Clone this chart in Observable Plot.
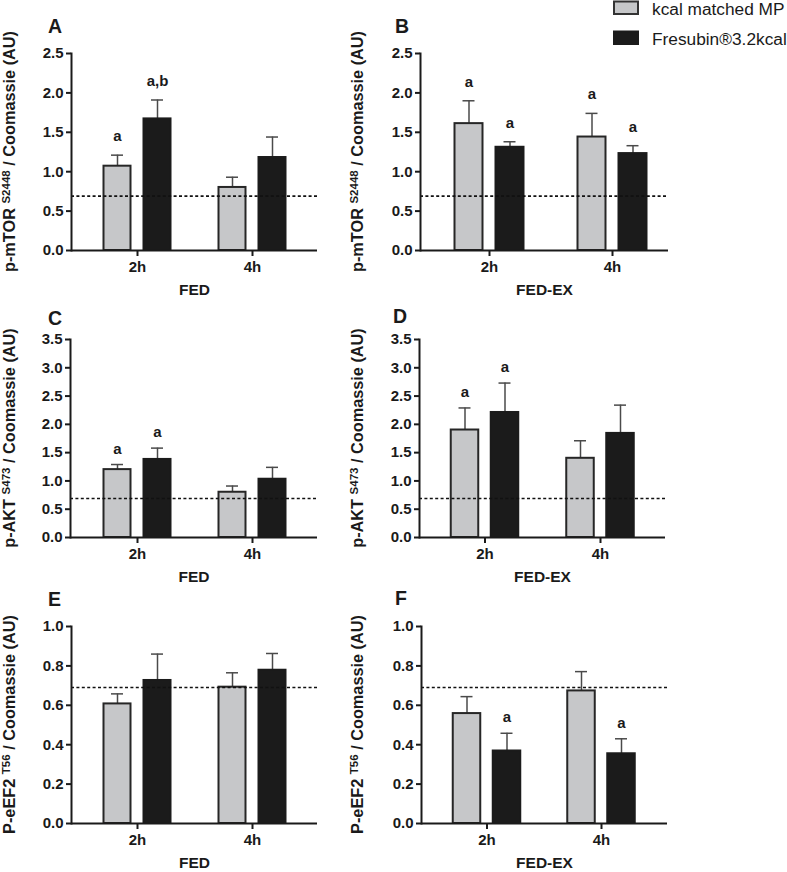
<!DOCTYPE html>
<html><head><meta charset="utf-8">
<script src="https://cdn.jsdelivr.net/npm/d3@7"></script>
<script src="https://cdn.jsdelivr.net/npm/@observablehq/plot@0.6"></script>
<style>
html,body{margin:0;padding:0;background:#fff;}
#root{position:relative;width:787px;height:872px;overflow:hidden;background:#fff;font-family:"Liberation Sans",Arial,sans-serif;}
#root svg{position:absolute;}
</style></head>
<body><div id="root"></div>
<script>
// ---------- data ----------
const times = ["2h", "4h"];
const seriesNames = ["kcal matched MP", "Fresubin®3.2kcal"];
const panelLetters = ["A", "B", "C", "D", "E", "F"];
const conditions = ["FED", "FED-EX"];
const baselineLevel = 0.69;

const ticksMTOR = [0, 0.5, 1.0, 1.5, 2.0, 2.5];
const ticksAKT = [0, 0.5, 1.0, 1.5, 2.0, 2.5, 3.0, 3.5];
const ticksEEF2 = [0, 0.2, 0.4, 0.6, 0.8, 1.0];

const titleMTOR = ["p-mTOR ", "S2448", " / Coomassie (AU)"];
const titleAKT = ["p-AKT ", "S473", " / Coomassie (AU)"];
const titleEEF2 = ["P-eEF2 ", "T56", " / Coomassie (AU)"];

// A: p-mTOR FED
const mtorFedMP = [1.07, 0.80], mtorFedMPsem = [0.14, 0.13], mtorFedMPsig = ["a", ""];
const mtorFedFR = [1.67, 1.18], mtorFedFRsem = [0.24, 0.26], mtorFedFRsig = ["a,b", ""];
// B: p-mTOR FED-EX
const mtorExMP = [1.61, 1.44], mtorExMPsem = [0.29, 0.30], mtorExMPsig = ["a", "a"];
const mtorExFR = [1.31, 1.23], mtorExFRsem = [0.07, 0.10], mtorExFRsig = ["a", "a"];
// C: p-AKT FED
const aktFedMP = [1.20, 0.80], aktFedMPsem = [0.09, 0.11], aktFedMPsig = ["a", ""];
const aktFedFR = [1.38, 1.03], aktFedFRsem = [0.20, 0.21], aktFedFRsig = ["a", ""];
// D: p-AKT FED-EX
const aktExMP = [1.90, 1.40], aktExMPsem = [0.39, 0.31], aktExMPsig = ["a", ""];
const aktExFR = [2.21, 1.84], aktExFRsem = [0.52, 0.50], aktExFRsig = ["a", ""];
// E: P-eEF2 FED
const eefFedMP = [0.607, 0.692], eefFedMPsem = [0.051, 0.073], eefFedMPsig = ["", ""];
const eefFedFR = [0.726, 0.778], eefFedFRsem = [0.134, 0.085], eefFedFRsig = ["", ""];
// F: P-eEF2 FED-EX
const eefExMP = [0.558, 0.673], eefExMPsem = [0.086, 0.098], eefExMPsig = ["", ""];
const eefExFR = [0.368, 0.354], eefExFRsem = [0.090, 0.076], eefExFRsig = ["a", "a"];

// ---------- layout (styles) ----------
const FONT = "Liberation Sans, Arial, sans-serif";
const GRAY = "#c6c7c9", BLACK = "#1b1b1b", INK = "#1a1a1a";

const panels = [
  {letter: 0, cond: 0, ticks: ticksMTOR, title: titleMTOR, mp: mtorFedMP, mpSem: mtorFedMPsem, mpSig: mtorFedMPsig, fr: mtorFedFR, frSem: mtorFedFRsem, frSig: mtorFedFRsig,
   svgLeft: 0, left: 71, right: 317, top: 53, bottom: 250, c0: 137, c1: 252, bw: 27, off: 20, sigGap: 14, lx: 48, ly: 33, tx: 15},
  {letter: 1, cond: 1, ticks: ticksMTOR, title: titleMTOR, mp: mtorExMP, mpSem: mtorExMPsem, mpSig: mtorExMPsig, fr: mtorExFR, frSem: mtorExFRsem, frSig: mtorExFRsig,
   svgLeft: 345, left: 420, right: 668, top: 53, bottom: 250, c0: 489, c1: 612, bw: 28, off: 20.5, sigGap: 14, lx: 395, ly: 33, tx: 363},
  {letter: 2, cond: 0, ticks: ticksAKT, title: titleAKT, mp: aktFedMP, mpSem: aktFedMPsem, mpSig: aktFedMPsig, fr: aktFedFR, frSem: aktFedFRsem, frSig: aktFedFRsig,
   svgLeft: 0, left: 70, right: 317, top: 339, bottom: 537, c0: 137, c1: 252, bw: 27, off: 20, sigGap: 11, lx: 48, ly: 325, tx: 15},
  {letter: 3, cond: 1, ticks: ticksAKT, title: titleAKT, mp: aktExMP, mpSem: aktExMPsem, mpSig: aktExMPsig, fr: aktExFR, frSem: aktExFRsem, frSig: aktExFRsig,
   svgLeft: 345, left: 419, right: 665, top: 339, bottom: 537, c0: 484.5, c1: 600, bw: 27.5, off: 20, sigGap: 11, lx: 393, ly: 323, tx: 363},
  {letter: 4, cond: 0, ticks: ticksEEF2, title: titleEEF2, mp: eefFedMP, mpSem: eefFedMPsem, mpSig: eefFedMPsig, fr: eefFedFR, frSem: eefFedFRsem, frSig: eefFedFRsig,
   svgLeft: 0, left: 71, right: 317, top: 626, bottom: 823, c0: 137, c1: 252, bw: 27, off: 20, sigGap: 11, lx: 48, ly: 606, tx: 15},
  {letter: 5, cond: 1, ticks: ticksEEF2, title: titleEEF2, mp: eefExMP, mpSem: eefExMPsem, mpSig: eefExMPsig, fr: eefExFR, frSem: eefExFRsem, frSig: eefExFRsig,
   svgLeft: 345, left: 421, right: 667, top: 626, bottom: 823, c0: 486.5, c1: 601, bw: 27.5, off: 20, sigGap: 11, lx: 395, ly: 605, tx: 363}
];

const root = document.getElementById("root");
const MT = 20, MB = 52, MR = 13;

function makePanel(p) {
  const rowsMP = times.map((t, i) => ({time: t, series: seriesNames[0], mean: p.mp[i], top: p.mp[i] + p.mpSem[i], sig: p.mpSig[i]}));
  const rowsFR = times.map((t, i) => ({time: t, series: seriesNames[1], mean: p.fr[i], top: p.fr[i] + p.frSem[i], sig: p.frSig[i]}));
  const s = p.c1 - p.c0;
  const width = p.right + MR - p.svgLeft;
  const height = MT + (p.bottom - p.top) + MB;
  const capW = 12;
  const ymax = p.ticks[p.ticks.length - 1];
  const chart = Plot.plot({
    width, height,
    marginLeft: p.left - p.svgLeft, marginRight: MR, marginTop: MT, marginBottom: MB,
    style: {fontFamily: FONT, fontSize: "15px", fontWeight: "bold", color: INK, background: "transparent", overflow: "visible"},
    x: {type: "band", domain: times, range: [p.c0 - s / 2 - p.svgLeft, p.c1 + s / 2 - p.svgLeft], padding: 0, round: false},
    y: {domain: [0, ymax]},
    marks: [
      // whiskers (SEM, upward only)
      Plot.ruleX(rowsMP, {x: "time", y1: "mean", y2: "top", dx: -p.off, stroke: "#4a4a4a", strokeWidth: 1.5}),
      Plot.ruleX(rowsFR, {x: "time", y1: "mean", y2: "top", dx: p.off, stroke: "#4a4a4a", strokeWidth: 1.5}),
      Plot.tickY(rowsMP, {x: "time", y: "top", dx: -p.off, insetLeft: s / 2 - capW / 2, insetRight: s / 2 - capW / 2, stroke: "#4a4a4a", strokeWidth: 1.5}),
      Plot.tickY(rowsFR, {x: "time", y: "top", dx: p.off, insetLeft: s / 2 - capW / 2, insetRight: s / 2 - capW / 2, stroke: "#4a4a4a", strokeWidth: 1.5}),
      // bars
      Plot.barY(rowsMP, {x: "time", y: "mean", fill: GRAY, stroke: "#262626", strokeWidth: 2,
        insetLeft: s / 2 - p.off - p.bw / 2, insetRight: s / 2 + p.off - p.bw / 2}),
      Plot.barY(rowsFR, {x: "time", y: "mean", fill: BLACK, stroke: "#1b1b1b", strokeWidth: 2,
        insetLeft: s / 2 + p.off - p.bw / 2, insetRight: s / 2 - p.off - p.bw / 2}),
      // reference (dashed) level
      Plot.ruleY([baselineLevel], {stroke: "#111", strokeWidth: 1.6, strokeDasharray: "3,2.4"}),
      // significance letters
      Plot.text(rowsMP.filter(d => d.sig), {x: "time", y: "top", text: "sig", dx: -p.off, dy: -p.sigGap, lineAnchor: "bottom", fontSize: 15, fontWeight: "bold", fill: INK}),
      Plot.text(rowsFR.filter(d => d.sig), {x: "time", y: "top", text: "sig", dx: p.off, dy: -p.sigGap, lineAnchor: "bottom", fontSize: 15, fontWeight: "bold", fill: INK}),
      // axes
      Plot.axisY(p.ticks, {tickFormat: d3.format(".1f"), tickSize: 5, tickPadding: 3, strokeWidth: 2, stroke: INK, fill: INK, label: null, fontSize: 15, fontWeight: "bold"}),
      Plot.axisX({tickSize: 6, tickPadding: 5, strokeWidth: 2, stroke: INK, fill: INK, label: null, fontSize: 15, fontWeight: "bold"}),
      Plot.ruleY([0], {stroke: INK, strokeWidth: 2}),
      Plot.frame({anchor: "left", stroke: INK, strokeWidth: 2}),
      Plot.text([conditions[p.cond]], {frameAnchor: "bottom", dy: 44, text: d => d, fontSize: 15.5, fontWeight: "bold", fill: INK})
    ]
  });
  chart.style.left = p.svgLeft + "px";
  chart.style.top = (p.top - MT) + "px";
  root.appendChild(chart);
}

panels.forEach(makePanel);

// ---------- overlay: panel letters, y titles, legend ----------
const ns = "http://www.w3.org/2000/svg";
const ov = d3.select(root).append("svg")
  .attr("width", 787).attr("height", 872)
  .style("left", "0px").style("top", "0px")
  .style("font-family", FONT).style("pointer-events", "none");

panels.forEach(p => {
  ov.append("text").attr("x", p.lx).attr("y", p.ly)
    .attr("font-size", 19.5).attr("font-weight", "bold").attr("fill", INK)
    .text(panelLetters[p.letter]);
  const cy = (p.top + p.bottom) / 2;
  const t = ov.append("text")
    .attr("transform", `translate(${p.tx},${cy}) rotate(-90)`)
    .attr("text-anchor", "middle").attr("font-size", 16.3).attr("font-weight", "bold").attr("fill", INK);
  t.append("tspan").text(p.title[0]);
  t.append("tspan").attr("font-size", 11.5).attr("dy", -5.5).text(p.title[1]);
  t.append("tspan").attr("dy", 5.5).text(p.title[2]);
});

// legend
const legendFills = [GRAY, BLACK];
const legendY = [1.5, 31.5];
seriesNames.forEach((name, i) => {
  ov.append("rect").attr("x", 614).attr("y", legendY[i]).attr("width", 24).attr("height", 12.5)
    .attr("fill", legendFills[i]).attr("stroke", i === 0 ? "#333" : BLACK).attr("stroke-width", 2);
  ov.append("text").attr("x", 652).attr("y", legendY[i] + 13)
    .attr("font-size", 17.3).attr("fill", INK).text(name);
});
</script>
</body></html>
